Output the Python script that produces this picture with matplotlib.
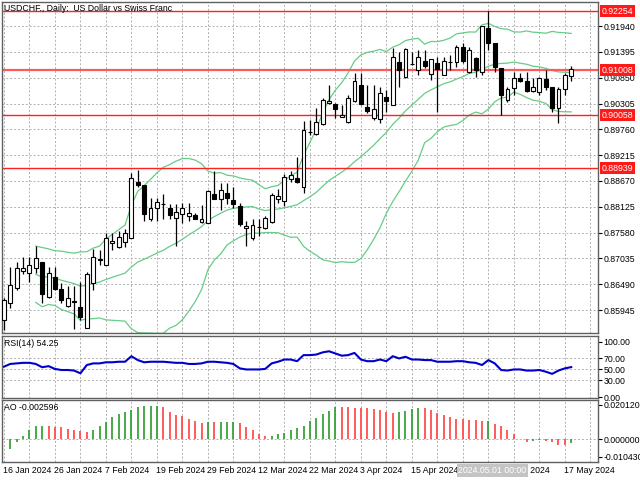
import matplotlib
matplotlib.use("Agg")
import matplotlib.pyplot as plt
import numpy as np
import pandas as pd
from matplotlib.patches import Rectangle

plt.rcParams["font.family"] = "Liberation Sans"

opens = [.85734,.86093,.86406,.86761,.86719,.86828,.86955,.86216,.86638,.86385,
         .86029,.86135,.86008,.85565,.86511,.87014,.86891,.87352,.87267,.87373,
         .87457,.88649,.88586,.87872,.88104,.88188,.88104,.87893,.87977,.87935,
         .87956,.87809,.87788,.88399,.88294,.88421,.88273,.88146,.87683,.87457,
         .87704,.87683,.87809,.88294,.88252,.88712,.88733,.88540,.89702,.89660,
         .89871,.90326,.90305,.90019,.89913,.90357,.90694,.90231,.89998,.89976,
         .90442,.90273,.91180,.90864,.91138,.91011,.91201,.90927,.91159,.90906,
         .91180,.91180,.91497,.90969,.91264,.90969,.91898,.91581,.91054,.90378,
         .90631,.90850,.90779,.90568,.90547,.90829,.90652,.90209,.90610,.90885]
highs = [.86198,.86849,.86955,.87056,.87056,.87288,.86955,.86849,.86849,.86511,
         .86448,.86448,.86532,.86740,.87225,.87204,.87562,.87580,.87622,.87664,
         .88839,.88902,.88586,.88315,.88315,.88399,.88188,.88188,.88209,.88209,
         .87998,.88167,.88484,.88881,.88628,.88628,.88544,.88209,.87830,.87872,
         .87872,.87935,.88421,.88505,.88818,.88881,.89173,.89934,.89955,.90209,
         .90431,.90695,.90326,.90273,.90484,.90947,.90947,.90694,.90694,.90652,
         .90590,.91476,.91391,.91476,.91391,.91434,.91434,.91244,.91286,.91286,
         .91328,.91539,.91581,.91497,.91286,.91940,.92254,.91581,.91054,.90652,
         .90969,.90948,.90969,.90850,.90871,.91011,.90652,.90652,.90948,.91096]
lows = [.85523,.85987,.86364,.86698,.86532,.86719,.86093,.86198,.86364,.86093,
        .86008,.85544,.85734,.85565,.86364,.86891,.86891,.87204,.87246,.87267,
        .87457,.88544,.87830,.87830,.87830,.87872,.87872,.87305,.87788,.87830,
        .87872,.87788,.87788,.88294,.88062,.88188,.88104,.87725,.87305,.87415,
        .87515,.87662,.87788,.88209,.88146,.88649,.88628,.88413,.89639,.89639,
        .89850,.90305,.89998,.90019,.89892,.90336,.90273,.90104,.89955,.89892,
        .90125,.90273,.90652,.90843,.91117,.90906,.91054,.90800,.90125,.90906,
        .91011,.91075,.91159,.90948,.90864,.90906,.91433,.90969,.90062,.90336,
        .90484,.90758,.90547,.90547,.90484,.90589,.90125,.89892,.90484,.90779]
closes = [.86156,.86469,.86828,.86828,.86891,.87035,.86279,.86719,.86385,.86156,
          .86198,.86124,.85797,.86698,.87056,.86993,.87457,.87394,.87478,.87580,
          .88733,.88586,.87977,.88104,.88230,.88188,.87956,.88019,.88104,.87998,
          .87872,.87872,.88463,.88294,.88484,.88315,.88188,.87767,.87725,.87746,
          .87704,.87893,.88378,.88357,.88754,.88797,.88649,.89744,.89702,.89913,
          .90389,.90368,.90188,.90062,.90421,.90778,.90294,.90146,.90188,.90526,
          .90357,.91286,.91011,.91455,.91138,.91286,.91096,.91244,.91032,.91201,
          .91180,.91497,.91201,.91433,.91011,.91940,.91581,.91075,.90484,.90610,
          .90850,.90779,.90568,.90652,.90850,.90652,.90209,.90610,.90906,.91032]

rsi = [55,60,61,62,62,60,54,56,51,49,49,48,43,58,61,61,63,63,64,64,
       74,67,63,64,64,64,63,62,62,60,60,61,64,64,63,62,60,52,50,50,
       50,51,61,64,68,68,65,76,76,77,81,83,79,75,76,80,68,65,65,68,
       65,74,70,73,68,68,67,67,64,64,64,65,65,63,62,58,67,61,49,48,
       50,50,48,48,49,46,42,48,52,54.25]

ao = [np.nan,-0.0060,-0.0020,0.0015,0.0050,0.0076,0.0078,0.0078,0.0072,0.0068,
      0.0059,0.0050,0.0048,0.0042,0.0050,0.0076,0.0097,0.0127,0.0148,0.0158,
      0.0170,0.0186,0.0192,0.0193,0.0194,0.0186,0.0160,0.0142,0.0133,0.0120,
      0.0104,0.0095,0.0099,0.0097,0.0099,0.0100,0.0101,0.0095,0.0072,0.0050,
      0.0030,0.0015,0.0017,0.0027,0.0034,0.0053,0.0066,0.0078,0.0104,0.0125,
      0.0144,0.0163,0.0188,0.0186,0.0185,0.0184,0.0183,0.0180,0.0176,0.0170,
      0.0157,0.0152,0.0156,0.0167,0.0176,0.0184,0.0182,0.0170,0.0152,0.0142,
      0.0130,0.0118,0.0117,0.0114,0.0110,0.0106,0.0107,0.0091,0.0076,0.0051,
      0.0028,0.0000,-0.0019,-0.0013,-0.0004,-0.0013,-0.0019,-0.0036,-0.0037,-0.002596]

date_labels = ["16 Jan 2024","26 Jan 2024","7 Feb 2024","19 Feb 2024","29 Feb 2024",
               "12 Mar 2024","22 Mar 2024","3 Apr 2024","15 Apr 2024","","9 May 2024","17 May 2024"]
price_ticks = [0.91940,0.91395,0.90850,0.90305,0.89760,0.89215,0.88670,0.88125,
               0.87580,0.87035,0.86490,0.85945]
levels = [0.92254,0.91008,0.90058,0.88939]

n = len(closes)
idx = np.arange(n)
cs = pd.Series(closes)
mid = cs.rolling(20, min_periods=6).mean()
sd = cs.rolling(20, min_periods=6).std(ddof=0)
up, lo = mid + 2*sd, mid - 2*sd

fig = plt.figure(figsize=(6.4,4.8), dpi=100)
L, W = 2/640, 596/640
ax = fig.add_axes([L, 1-333/480, W, 331/480])
ar = fig.add_axes([L, 1-398/480, W, 62/480])
aa = fig.add_axes([L, 1-462/480, W, 62/480])
xl = (-0.3, 93.2)
fs = 6.3
grid_kw = dict(color="#b0b0b0", ls=(0,(2,2)), lw=0.7)
for a in (ax, ar, aa):
    a.set_xlim(*xl)
    a.set_xticks(np.arange(0, 93, 4))
    a.xaxis.grid(True, **grid_kw)
    a.tick_params(axis="x", length=0, labelbottom=False)
    a.yaxis.tick_right()
    a.tick_params(axis="y", direction="out", length=3, labelsize=fs, pad=1)
    for s in a.spines.values():
        s.set_color("#606060"); s.set_linewidth(1)
    a.set_axisbelow(True)

# main
ax.set_ylim(0.85462, 0.92447)
ax.set_yticks(price_ticks)
ax.set_yticklabels([f"{v:.5f}" for v in price_ticks])
ax.yaxis.grid(True, **grid_kw)
ax.plot(idx, up, color="#66cc88", lw=0.9)
ax.plot(idx, mid, color="#66cc88", lw=0.9)
ax.plot(idx, lo, color="#66cc88", lw=0.9)
for lv in levels:
    ax.axhline(lv, color="#ff2020" if lv != 0.91008 else "#ff5a5a",
               lw=1.0 if lv != 0.91008 else 1.6, zorder=2)
bw = 0.62
for i in idx:
    o, h, l, c = opens[i], highs[i], lows[i], closes[i]
    ax.vlines(i, l, h, color="black", lw=0.9, zorder=3)
    bot, top = min(o, c), max(o, c)
    hgt = max(top - bot, 0.00004)
    ax.add_patch(Rectangle((i - bw/2, bot), bw, hgt, facecolor="white" if c >= o else "black",
                           edgecolor="black", lw=0.8, zorder=4))
for lv in levels:
    ax.text(1.006, (lv-0.85462)/(0.92447-0.85462), f"{lv:.5f}", transform=ax.transAxes,
            fontsize=fs, color="white", va="center", ha="left",
            bbox=dict(boxstyle="square,pad=0.2", fc="#ff1a1a", ec="none"), zorder=10, clip_on=False)
ax.text(0.004, 0.993, "USDCHF., Daily:  US Dollar vs Swiss Franc", transform=ax.transAxes,
        fontsize=fs, va="top", ha="left")

# RSI
ar.set_ylim(-1.8, 110.7)
ar.set_yticks([0,30,50,70,100])
ar.set_yticklabels(["0.00","30.00","50.00","70.00","100.00"])
for v in (30, 50, 70):
    ar.axhline(v, **grid_kw)
ar.plot(idx, rsi, color="#0000cc", lw=1.5)
ar.text(0.004, 0.95, "RSI(14) 54.25", transform=ar.transAxes, fontsize=fs, va="top")

# AO
aa.set_ylim(-0.0135, 0.0229)
aa.set_yticks([-0.01043, 0.0, 0.02012])
aa.set_yticklabels(["-0.010430", "0.000000", "0.020120"])
aa.axhline(0, **grid_kw)
aov = np.array(ao)
for i in range(1, n):
    col = "#2a9a2a" if (np.isnan(aov[i-1]) or aov[i] > aov[i-1]) else "#ff4040"
    aa.vlines(i, 0, aov[i], color=col, lw=1.2)
aa.text(0.004, 0.95, "AO -0.002596", transform=aa.transAxes, fontsize=fs, va="top")

# date labels
pos = [0,8,16,24,32,40,48,56,64,72,78.6,88]
for p, t in zip(pos, date_labels):
    if t:
        aa.text(p - 0.1, -0.14, t, transform=aa.get_xaxis_transform(), fontsize=fs,
                ha="left", va="center", clip_on=False)
aa.text(71.3, -0.14, "2024.05.01 00:00", transform=aa.get_xaxis_transform(), fontsize=fs,
        ha="left", va="center", color="white", clip_on=False,
        bbox=dict(boxstyle="square,pad=0.2", fc="#c4c4c4", ec="none"), zorder=10)

fig.savefig("out.png", dpi=100)
